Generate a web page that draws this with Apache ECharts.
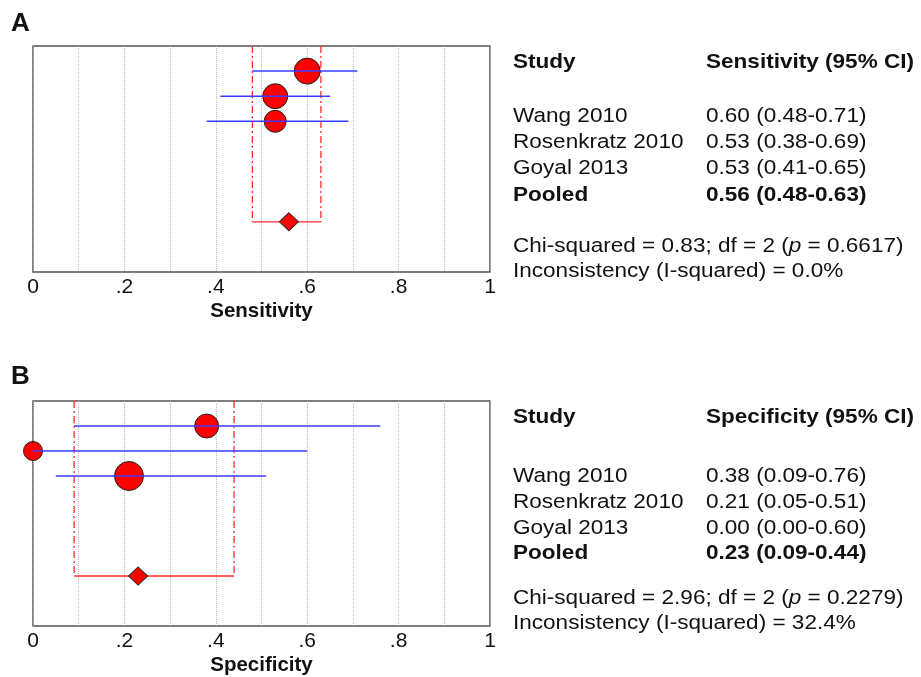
<!DOCTYPE html>
<html>
<head>
<meta charset="utf-8">
<script src="https://cdn.jsdelivr.net/npm/echarts@6/dist/echarts.min.js"></script>
<style>html,body{margin:0;padding:0;background:#fff;}#c{width:921px;height:677px;}</style>
</head>
<body>
<div id="c"></div>
<script>
// ---- data ----
var studies = ['Wang 2010', 'Rosenkratz 2010', 'Goyal 2013'];
var sensEst = [0.60, 0.53, 0.53];
var sensLo  = [0.48, 0.38, 0.41];
var sensHi  = [0.71, 0.69, 0.65];
var specEst = [0.38, 0.21, 0.00];
var specLo  = [0.09, 0.05, 0.00];
var specHi  = [0.76, 0.51, 0.60];
var pooledSens = [0.56, 0.48, 0.63]; // est, lo, hi
var pooledSpec = [0.23, 0.09, 0.44];
var plotRow = [1, 3, 2];              // row of each study in the plot (top = 1)
var pooledRow = 7;
var sensWeight = [26, 22, 25];        // relative study weight (marker size)
var specWeight = [24, 29, 19];
var tickLabels = ['0', '.2', '.4', '.6', '.8', '1'];
var sensText = ['0.60 (0.48-0.71)', '0.53 (0.38-0.69)', '0.53 (0.41-0.65)'];
var sensPooledText = '0.56 (0.48-0.63)';
var specText = ['0.38 (0.09-0.76)', '0.21 (0.05-0.51)', '0.00 (0.00-0.60)'];
var specPooledText = '0.23 (0.09-0.44)';
var sensChi = ['0.83', '2', '0.6617', '0.0%'];
var specChi = ['2.96', '2', '0.2279', '32.4%'];

var FONT = '"Liberation Sans", Arial, sans-serif';
var chart = echarts.init(document.getElementById('c'), null, {renderer: 'canvas'});

function xAxisCfg(idx, name) {
  return {
    gridIndex: idx, type: 'value', min: 0, max: 1, interval: 0.2,
    axisLine: {show: false}, axisTick: {show: false},
    axisLabel: {
      margin: 5, fontSize: 21, color: '#111', fontFamily: FONT,
      formatter: function (v) { return tickLabels[Math.round(v / 0.2)]; }
    },
    splitLine: {show: true, lineStyle: {type: 'dotted', color: '#bbb', width: 1}},
    minorTick: {show: false, splitNumber: 2},
    minorSplitLine: {show: true, lineStyle: {type: 'dotted', color: '#bbb', width: 1}},
    name: name, nameLocation: 'middle', nameGap: 29,
    nameTextStyle: {fontSize: 20.5, fontWeight: 'bold', color: '#111', fontFamily: FONT,
                    verticalAlign: 'top'}
  };
}
function yAxisCfg(idx) {
  return {gridIndex: idx, type: 'value', min: 0, max: 9, inverse: true, show: false};
}

function panelSeries(idx, est, lo, hi, w, pooled) {
  var pts = [], ci = [];
  for (var i = 0; i < est.length; i++) {
    pts.push([est[i], plotRow[i], w[i]]);
    ci.push([lo[i], hi[i], plotRow[i]]);
  }
  return [
    {
      type: 'scatter', xAxisIndex: idx, yAxisIndex: idx, clip: false, z: 3,
      data: pts, symbol: 'circle',
      symbolSize: function (d) { return d[2]; },
      itemStyle: {color: '#ff0000', borderColor: '#222', borderWidth: 1, opacity: 1},
      silent: true
    },
    {
      type: 'custom', xAxisIndex: idx, yAxisIndex: idx, z: 4, clip: false, silent: true,
      data: ci,
      renderItem: function (params, api) {
        var a = api.coord([api.value(0), api.value(2)]);
        var b = api.coord([api.value(1), api.value(2)]);
        return {type: 'line', shape: {x1: a[0], y1: a[1], x2: b[0], y2: b[1]},
                style: {stroke: '#3b3bff', lineWidth: 1.5}};
      }
    },
    {
      type: 'custom', xAxisIndex: idx, yAxisIndex: idx, z: 2, clip: false, silent: true,
      data: [[pooled[1], pooled[2], pooledRow]],
      renderItem: function (params, api) {
        var l0 = api.coord([api.value(0), 0]);
        var l1 = api.coord([api.value(0), api.value(2)]);
        var r0 = api.coord([api.value(1), 0]);
        var r1 = api.coord([api.value(1), api.value(2)]);
        var dash = {stroke: '#ff2a2a', lineWidth: 1.3, lineDash: [7, 3, 2, 3]};
        return {type: 'group', children: [
          {type: 'line', shape: {x1: l0[0], y1: l0[1], x2: l1[0], y2: l1[1]}, style: dash},
          {type: 'line', shape: {x1: r0[0], y1: r0[1], x2: r1[0], y2: r1[1]}, style: dash},
          {type: 'line', shape: {x1: l1[0], y1: l1[1], x2: r1[0], y2: r1[1]},
           style: {stroke: '#ff2a2a', lineWidth: 1.3}}
        ]};
      }
    },
    {
      type: 'scatter', xAxisIndex: idx, yAxisIndex: idx, clip: false, z: 5, silent: true,
      data: [[pooled[0], pooledRow]], symbol: 'diamond', symbolSize: [19, 18],
      itemStyle: {color: '#ff0000', borderColor: '#222', borderWidth: 1, opacity: 1}
    }
  ];
}

function txt(x, y, text, bold, extra) {
  var o = {
    type: 'text', x: x, y: y, scaleX: 1.1, scaleY: 1, silent: true,
    style: {text: text, fill: '#111', font: (bold ? 'bold ' : '') + '20.5px ' + FONT,
            verticalAlign: 'middle', align: 'left'}
  };
  if (extra) { for (var k in extra) o.style[k] = extra[k]; }
  return o;
}
function chiText(x, y, c) {
  return txt(x, y, '{n|Chi-squared = ' + c[0] + '; df = ' + c[1] + ' (}{i|p}{n| = ' + c[2] + ')}', false, {
    rich: {
      n: {fontSize: 20.5, fontFamily: FONT, fill: '#111'},
      i: {fontSize: 20.5, fontFamily: FONT, fontStyle: 'italic', fill: '#111'}
    }
  });
}
function table(top, header, vals, pooledTxt, chi, rowY, chiY) {
  var g = [];
  g.push(txt(513, top, 'Study', true));
  g.push(txt(706, top, header, true));
  for (var i = 0; i < studies.length; i++) {
    g.push(txt(513, rowY[i], studies[i], false));
    g.push(txt(706, rowY[i], vals[i], false));
  }
  g.push(txt(513, rowY[3], 'Pooled', true));
  g.push(txt(706, rowY[3], pooledTxt, true));
  g.push(chiText(513, chiY[0], chi));
  g.push(txt(513, chiY[1], 'Inconsistency (I-squared) = ' + chi[3], false));
  return g;
}

var graphics = [
  {type: 'text', x: 11, y: 24, silent: true,
   style: {text: 'A', fill: '#111', font: 'bold 26px ' + FONT, verticalAlign: 'middle'}},
  {type: 'text', x: 11, y: 377, silent: true,
   style: {text: 'B', fill: '#111', font: 'bold 26px ' + FONT, verticalAlign: 'middle'}}
];
graphics = graphics.concat(
  table(62, 'Sensitivity (95% CI)', sensText, sensPooledText, sensChi, [116, 142, 168, 195], [246, 271]),
  table(417, 'Specificity (95% CI)', specText, specPooledText, specChi, [476, 502, 528, 553], [598, 623])
);

var option = {
  backgroundColor: '#fff',
  animation: false,
  grid: [
    {left: 33, top: 46, width: 457, height: 226, show: true, backgroundColor: '#fff',
     borderColor: '#555', borderWidth: 1.5},
    {left: 33, top: 401, width: 457, height: 226, show: true, backgroundColor: '#fff',
     borderColor: '#555', borderWidth: 1.5}
  ],
  xAxis: [xAxisCfg(0, 'Sensitivity'), xAxisCfg(1, 'Specificity')],
  yAxis: [yAxisCfg(0), yAxisCfg(1)],
  series: [].concat(
    panelSeries(0, sensEst, sensLo, sensHi, sensWeight, pooledSens),
    panelSeries(1, specEst, specLo, specHi, specWeight, pooledSpec)
  ),
  graphic: graphics
};
chart.setOption(option);
</script>
</body>
</html>
